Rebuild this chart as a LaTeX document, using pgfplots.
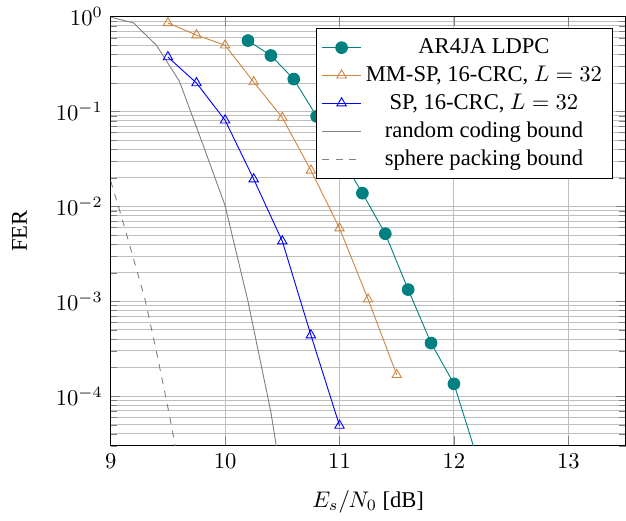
\documentclass[border=0pt]{standalone}
\usepackage[no-math]{fontspec}
\setmainfont{Liberation Serif}
\usepackage{pgfplots}
\pgfplotsset{compat=1.18}
\definecolor{mmsp}{RGB}{205,133,63}
\begin{document}
\begin{tikzpicture}
\begin{semilogyaxis}[
    scale only axis,
    width=228pt, height=190pt,
    xmin=9, xmax=13.5,
    ymin=3e-5, ymax=1,
    xtick={9,10,11,12,13},
    xlabel={$E_s/N_0$ [dB]},
    xlabel style={yshift=-3pt},
    ylabel={FER},
    ylabel style={yshift=6pt},
    xmajorgrids, ymajorgrids, yminorgrids,
    legend cell align=center,
    legend style={at={(0.975,0.974)}, anchor=north east, font=\normalsize, inner sep=2.5pt},
]

% AR4JA LDPC
\addplot[teal, mark=*, mark size=2.6pt] coordinates {
    (10.2, 0.56) (10.4, 0.39) (10.6, 0.22) (10.8, 0.089) (11.0, 0.035)
    (11.2, 0.0138) (11.4, 0.00516) (11.6, 0.00133) (11.8, 0.000363)
    (12.0, 0.000135) (12.2, 0.000023)
};
\addlegendentry{AR4JA LDPC}

% MM-SP, 16-CRC
\addplot[mmsp, mark=triangle, mark size=2.4pt] coordinates {
    (9.5, 0.86) (9.75, 0.64) (10.0, 0.50) (10.25, 0.205) (10.5, 0.0865)
    (10.75, 0.024) (11.0, 0.0059) (11.25, 0.00105) (11.5, 0.000168)
};
\addlegendentry{MM-SP, 16-CRC, $L=32$}

% SP, 16-CRC
\addplot[blue, mark=triangle, mark size=2.4pt] coordinates {
    (9.5, 0.376) (9.75, 0.2) (10.0, 0.081) (10.25, 0.0194) (10.5, 0.0043)
    (10.75, 0.00044) (11.0, 0.000049)
};
\addlegendentry{SP, 16-CRC, $L=32$}

% bounds
\addplot[gray, no marks] coordinates {
    (9.0, 0.99) (9.2, 0.86) (9.4, 0.50) (9.6, 0.21) (9.8, 0.047)
    (10.0, 0.0102) (10.2, 0.0010) (10.4, 0.000068) (10.5, 0.000012)
};
\addlegendentry{random coding bound}

\addplot[gray, dashed, no marks] coordinates {
    (9.0, 0.0186) (9.1, 0.0074) (9.2, 0.0028) (9.3, 0.00105)
    (9.4, 0.000295) (9.5, 0.000076) (9.6, 0.000018)
};
\addlegendentry{sphere packing bound}

\end{semilogyaxis}
\path ([xshift=-2pt]current bounding box.west);
\end{tikzpicture}
\end{document}
